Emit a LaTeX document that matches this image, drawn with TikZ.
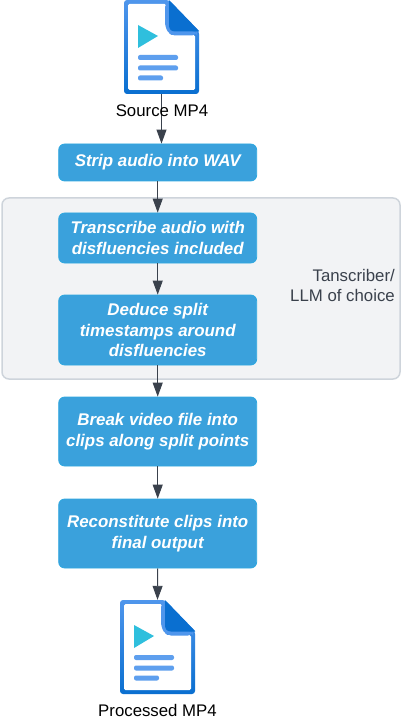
\documentclass[tikz,border=0pt]{standalone}
\usepackage{fontspec}
\setmainfont{Liberation Sans}
\usetikzlibrary{arrows.meta}
\definecolor{boxblue}{HTML}{3AA1DC}
\definecolor{boxedge}{HTML}{2FA8E0}
\definecolor{ink}{HTML}{3A414C}
\definecolor{groupfill}{HTML}{F2F3F5}
\definecolor{groupedge}{HTML}{CED4DB}
\definecolor{fileedge}{HTML}{4F96EC}
\definecolor{filedark}{HTML}{0A6FD0}
\definecolor{fileline}{HTML}{5E9FEE}
\definecolor{play}{HTML}{2FBFDD}
\tikzset{
  x=1pt,y=-1pt,
  stepbox/.style={draw=boxedge,line width=0.8pt,fill=boxblue,rounded corners=6pt,minimum width=198pt,
    align=center,text=white,inner sep=0pt,font=\fontsize{16.9}{20.5}\selectfont\bfseries\itshape},
  flow/.style={draw=ink,line width=0.9pt,-{Stealth[length=14pt,width=10pt,inset=0pt]}},
  filelabel/.style={text=black,inner sep=0pt,font=\fontsize{16.8}{20}\selectfont},
  iconframe/.style={minimum width=75pt,minimum height=94pt,inner sep=0pt},
  filedoc/.pic={
    \shade[top color=fileedge,bottom color=filedark,rounded corners=3pt]
      (0,0) -- (45,0) -- (75,31) -- (75,94) -- (0,94) -- cycle;
    \fill[white,rounded corners=1.5pt] (4,4) -- (42,4) -- (42,24) -- (46,35) -- (71,35) -- (71,90) -- (4,90) -- cycle;
    \fill[fileedge,rounded corners=5pt] (41,2) -- (41,27) -- (46,35.5) -- (73,35.5) -- (73,31) -- (46,31) -- (45,2) -- cycle;
    \fill[filedark] (45,0) -- (75,31) -- (75,31.5) -- (51,31.5) .. controls (47,31.5) and (45,29) .. (45,25) -- cycle;
    \fill[play] (14,25) -- (34,36) -- (14,48) -- cycle;
    \fill[fileline,rounded corners=2pt] (14,55) rectangle (54,60);
    \fill[fileline,rounded corners=2pt] (14,65.5) rectangle (54,70.5);
    \fill[fileline,rounded corners=2pt] (14,75.5) rectangle (39,80.5);
  }
}
\begin{document}
\begin{tikzpicture}
\useasboundingbox (0,0) rectangle (400,719);
\fill[white] (0,0) rectangle (400,719);
\node[draw=groupedge,line width=1.5pt,fill=groupfill,rounded corners=7pt,minimum width=398pt,minimum height=181pt,inner sep=0pt] (group) at (201,288.5) {};
\node[iconframe] (srcicon) at (161.5,47) {};
\node[iconframe] (outicon) at (157.5,647) {};
\pic at (124,0) {filedoc};
\pic at (120,600) {filedoc};
\node[stepbox,minimum height=37pt] (strip) at (157.7,162.5) {Strip audio into WAV};
\node[stepbox,minimum height=50pt] (transcribe) at (157.7,238) {Transcribe audio with\\disfluencies included};
\node[stepbox,minimum height=70pt] (deduce) at (157.7,330) {Deduce split\\timestamps around\\disfluencies};
\node[stepbox,minimum height=69pt] (breakup) at (157.7,431.5) {Break video file into\\clips along split points};
\node[stepbox,minimum height=69pt] (recon) at (157.7,533.5) {Reconstitute clips into\\final output};
\draw[flow] (srcicon.south) -- (srcicon.south |- strip.north);
\draw[flow] (strip.south) -- (transcribe.north);
\draw[flow] (transcribe.south) -- (deduce.north);
\draw[flow] (deduce.south) -- (breakup.north);
\draw[flow] (breakup.south) -- (recon.north);
\draw[flow] (recon.south) -- (outicon.north);
\node[filelabel] (srclabel) at (162,110.5) {Source MP4};
\node[filelabel] (outlabel) at (157.5,710.5) {Processed MP4};
\node[anchor=east,align=right,text=ink,inner sep=0pt,font=\fontsize{16.8}{20.5}\selectfont] (grouplabel) at (395,285.5) {Tanscriber/\\LLM of choice};
\end{tikzpicture}
\end{document}
